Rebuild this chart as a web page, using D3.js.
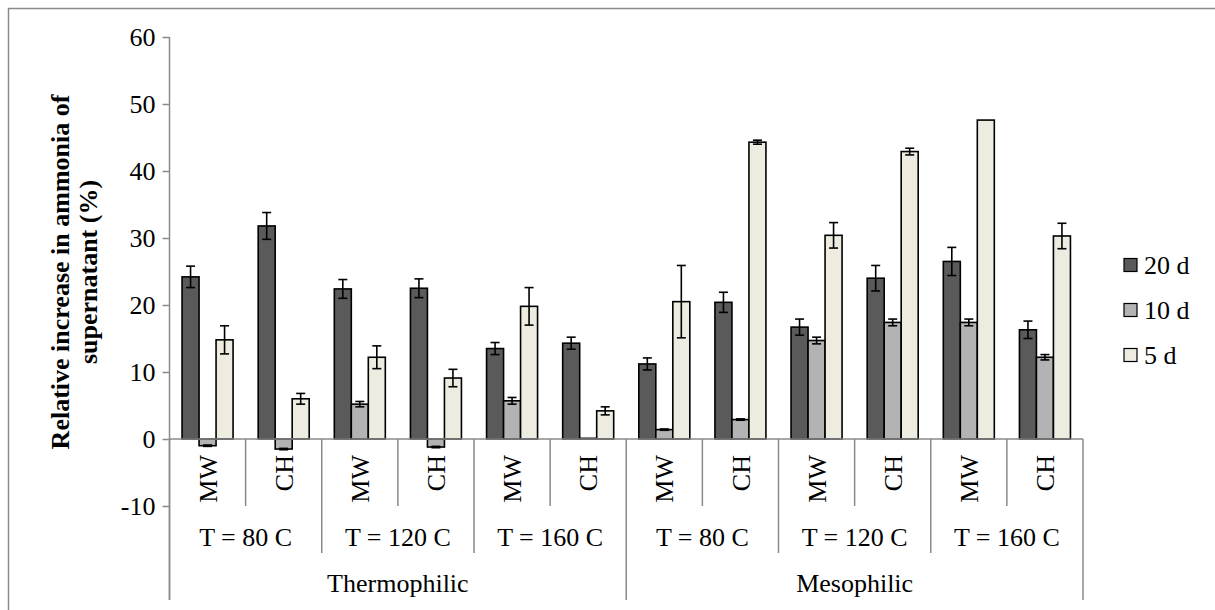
<!DOCTYPE html>
<html>
<head>
<meta charset="utf-8">
<script src="https://cdn.jsdelivr.net/npm/d3@7"></script>
<style>
  html, body { margin: 0; padding: 0; background: #fff; }
  svg { display: block; font-family: "Liberation Serif", "Times New Roman", serif; }
</style>
</head>
<body>
<svg id="chart" width="1215" height="610"></svg>
<script>
// Category hierarchy (innermost to outermost)
const methods = ["MW", "CH", "MW", "CH", "MW", "CH", "MW", "CH", "MW", "CH", "MW", "CH"];
const temperatures = ["T = 80 C", "T = 120 C", "T = 160 C", "T = 80 C", "T = 120 C", "T = 160 C"];
const regimes = ["Thermophilic", "Mesophilic"];

// Series: relative increase in ammonia (%) and error
const seriesNames = ["20 d", "10 d", "5 d"];
const values20 = [24.2, 31.8, 22.4, 22.5, 13.5, 14.3, 11.2, 20.4, 16.7, 24.0, 26.5, 16.3];
const errors20 = [1.6, 2.0, 1.4, 1.4, 0.9, 0.9, 0.9, 1.5, 1.2, 1.9, 2.1, 1.3];
const values10 = [-1.0, -1.5, 5.2, -1.2, 5.7, 0.1, 1.4, 2.9, 14.7, 17.4, 17.4, 12.2];
const errors10 = [0.1, 0.1, 0.4, 0.1, 0.5, 0.0, 0.1, 0.1, 0.5, 0.5, 0.5, 0.4];
const values5 = [14.8, 6.0, 12.2, 9.1, 19.8, 4.2, 20.5, 44.3, 30.4, 42.9, 47.6, 30.3];
const errors5 = [2.1, 0.8, 1.7, 1.3, 2.8, 0.6, 5.4, 0.3, 1.9, 0.5, 0.0, 1.9];
const yTicks = [-10, 0, 10, 20, 30, 40, 50, 60];

const colors = ["#5a5a5a", "#b3b3b3", "#eeece1"];
const axisGray = "#8a8a8a";
const fontSize = "26px";

const seriesValues = [values20, values10, values5];
const seriesErrors = [errors20, errors10, errors5];

const svg = d3.select("#chart");

// outer chart frame
svg.append("rect")
  .attr("x", 8.5).attr("y", 8.5)
  .attr("width", 1230).attr("height", 640)
  .attr("fill", "none").attr("stroke", axisGray).attr("stroke-width", 1.5);

const plot = { left: 169.5, right: 1083, top: 37, bottom: 506 };
const labelBottom = 600;

const idx = d3.range(methods.length);
const x = d3.scaleBand().domain(idx).range([plot.left, plot.right]).padding(0);
const xInner = d3.scaleBand().domain(d3.range(seriesNames.length))
  .range([0, x.bandwidth() * 0.67]).padding(0);
const innerOffset = (x.bandwidth() - x.bandwidth() * 0.67) / 2;

const y = d3.scaleLinear().domain([-10, 60]).range([plot.bottom, plot.top]);

// y axis
const yAxis = d3.axisLeft(y).tickValues(yTicks).tickSize(7).tickPadding(7).tickFormat(d => String(d));
const yg = svg.append("g").attr("transform", `translate(${plot.left},0)`).call(yAxis);
yg.select(".domain").remove();
yg.selectAll(".tick line").attr("stroke", axisGray).attr("stroke-width", 1.5);
yg.selectAll(".tick text")
  .attr("fill", "#000")
  .style("font-family", "'Liberation Serif', serif")
  .style("font-size", fontSize);

// y axis line, running down through the category label area
svg.append("line")
  .attr("x1", plot.left).attr("x2", plot.left)
  .attr("y1", plot.top).attr("y2", labelBottom)
  .attr("stroke", axisGray).attr("stroke-width", 1.5);

// bars
seriesValues.forEach((vals, s) => {
  svg.append("g").selectAll("rect")
    .data(idx)
    .join("rect")
    .attr("x", i => x(i) + innerOffset + xInner(s))
    .attr("width", xInner.bandwidth())
    .attr("y", i => y(Math.max(0, vals[i])))
    .attr("height", i => Math.abs(y(vals[i]) - y(0)))
    .attr("fill", colors[s])
    .attr("stroke", "#000")
    .attr("stroke-width", 1.6);
});

// error bars
seriesValues.forEach((vals, s) => {
  const errs = seriesErrors[s];
  const g = svg.append("g").attr("stroke", "#000").attr("stroke-width", 1.6);
  idx.forEach(i => {
    if (!errs[i]) return;
    const cx = x(i) + innerOffset + xInner(s) + xInner.bandwidth() / 2;
    const y1 = y(vals[i] + errs[i]);
    const y2 = y(vals[i] - errs[i]);
    g.append("line").attr("x1", cx).attr("x2", cx).attr("y1", y1).attr("y2", y2);
    g.append("line").attr("x1", cx - 4.5).attr("x2", cx + 4.5).attr("y1", y1).attr("y2", y1);
    g.append("line").attr("x1", cx - 4.5).attr("x2", cx + 4.5).attr("y1", y2).attr("y2", y2);
  });
});

// category axis (zero line)
svg.append("line")
  .attr("x1", plot.left).attr("x2", plot.right)
  .attr("y1", y(0)).attr("y2", y(0))
  .attr("stroke", axisGray).attr("stroke-width", 1.5);

// multi-level category separators
const bounds = d3.range(methods.length + 1);
const sepX = b => b === methods.length ? plot.right : x(b);
svg.append("g").selectAll("line")
  .data(bounds)
  .join("line")
  .attr("x1", b => sepX(b)).attr("x2", b => sepX(b))
  .attr("y1", y(0))
  .attr("y2", b => (b % 6 === 0 ? labelBottom : b % 2 === 0 ? 553 : 506))
  .attr("stroke", axisGray).attr("stroke-width", 1.5);

// level 1: method labels (rotated)
svg.append("g").selectAll("text")
  .data(idx)
  .join("text")
  .attr("transform", i => `translate(${x(i) + x.bandwidth() / 2},455) rotate(-90)`)
  .attr("text-anchor", "end")
  .attr("dy", "0.35em")
  .style("font-size", fontSize)
  .text(i => methods[i]);

// level 2: temperature labels
svg.append("g").selectAll("text")
  .data(temperatures)
  .join("text")
  .attr("x", (d, k) => x(k * 2) + x.bandwidth())
  .attr("y", 537)
  .attr("dy", "0.35em")
  .attr("text-anchor", "middle")
  .style("font-size", fontSize)
  .text(d => d);

// level 3: regime labels
svg.append("g").selectAll("text")
  .data(regimes)
  .join("text")
  .attr("x", (d, k) => x(k * 6) + 3 * x.bandwidth())
  .attr("y", 583)
  .attr("dy", "0.35em")
  .attr("text-anchor", "middle")
  .style("font-size", fontSize)
  .text(d => d);

// y axis title
const title = svg.append("text")
  .attr("transform", "translate(0,272) rotate(-90)")
  .attr("text-anchor", "middle")
  .style("font-size", fontSize)
  .style("font-weight", "bold");
title.append("tspan").attr("x", 0).attr("y", 69).text("Relative increase in ammonia of");
title.append("tspan").attr("x", 0).attr("y", 97).text("supernatant (%)");

// legend
const legend = svg.append("g").selectAll("g")
  .data(seriesNames)
  .join("g")
  .attr("transform", (d, s) => `translate(1124,${265 + s * 45})`);
legend.append("rect")
  .attr("x", 0).attr("y", -6.5)
  .attr("width", 13).attr("height", 13)
  .attr("fill", (d, s) => colors[s])
  .attr("stroke", "#000").attr("stroke-width", 1.2);
legend.append("text")
  .attr("x", 20).attr("dy", "0.35em")
  .style("font-size", fontSize)
  .text(d => d);
</script>
</body>
</html>
